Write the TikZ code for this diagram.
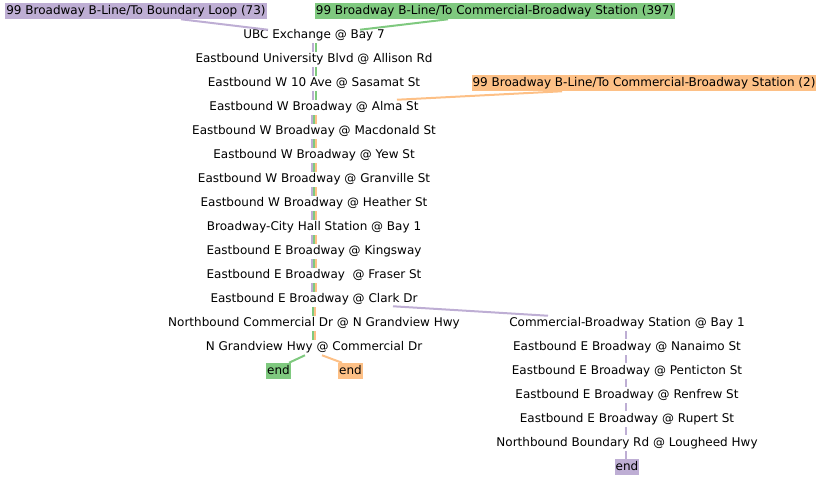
\documentclass[tikz,border=0pt]{standalone}
\usepackage{fontspec}
\setmainfont{DejaVu Sans}
\definecolor{cpur}{HTML}{BEAED4}
\definecolor{cgrn}{HTML}{7FC97F}
\definecolor{corg}{HTML}{FDC086}
\begin{document}
\begin{tikzpicture}[x=0.75pt,y=-0.75pt,
  every node/.style={font=\fontsize{9pt}{11pt}\selectfont, inner xsep=0.75pt, inner ysep=1.5pt, text height=7.4pt, text depth=1.6pt},
  stop/.style={},
  hdr/.style={fill=#1},
  seg/.style={draw=#1, line width=1.5pt},
]
\useasboundingbox (0,0) rectangle (821,480);
% header labels
\node[hdr=cpur] (hp) at (136,11) {99 Broadway B-Line/To Boundary Loop (73)};
\node[hdr=cgrn] (hg) at (495,11) {99 Broadway B-Line/To Commercial-Broadway Station (397)};
\node[hdr=corg] (ho) at (644,83) {99 Broadway B-Line/To Commercial-Broadway Station (2)};
% main column
\node[stop] (s1) at (314,35) {UBC Exchange @ Bay 7};
\node[stop] (s2) at (314,59) {Eastbound University Blvd @ Allison Rd};
\node[stop] (s3) at (314,83) {Eastbound W 10 Ave @ Sasamat St};
\node[stop] (s4) at (314,107) {Eastbound W Broadway @ Alma St};
\node[stop] (s5) at (314,131) {Eastbound W Broadway @ Macdonald St};
\node[stop] (s6) at (314,155) {Eastbound W Broadway @ Yew St};
\node[stop] (s7) at (314,179) {Eastbound W Broadway @ Granville St};
\node[stop] (s8) at (314,203) {Eastbound W Broadway @ Heather St};
\node[stop] (s9) at (314,227) {Broadway-City Hall Station @ Bay 1};
\node[stop] (s10) at (314,251) {Eastbound E Broadway @ Kingsway};
\node[stop] (s11) at (314,275) {Eastbound E Broadway\ \ @ Fraser St};
\node[stop] (s12) at (314,299) {Eastbound E Broadway @ Clark Dr};
\node[stop] (s13) at (314,323) {Northbound Commercial Dr @ N Grandview Hwy};
\node[stop] (s14) at (314,347) {N Grandview Hwy @ Commercial Dr};
\node[hdr=cgrn] (eg) at (278.5,371) {end};
\node[hdr=corg] (eo) at (350.5,371) {end};
% right column
\node[stop] (r1) at (627,323) {Commercial-Broadway Station @ Bay 1};
\node[stop] (r2) at (627,347) {Eastbound E Broadway @ Nanaimo St};
\node[stop] (r3) at (627,371) {Eastbound E Broadway @ Penticton St};
\node[stop] (r4) at (627,395) {Eastbound E Broadway @ Renfrew St};
\node[stop] (r5) at (627,419) {Eastbound E Broadway @ Rupert St};
\node[stop] (r6) at (627,443) {Northbound Boundary Rd @ Lougheed Hwy};
\node[hdr=cpur] (ep) at (627,467) {end};
% header edges
\draw[seg=cpur] ([shift={(45,0)}]hp.south) -- ([shift={(-46,3)}]s1.north);
\draw[seg=cgrn] ([shift={(-47,0)}]hg.south) -- ([shift={(46,3)}]s1.north);
\draw[seg=corg] ([shift={(-82,0)}]ho.south) -- ([shift={(83,1)}]s4.north);
% two-line sections
\foreach \a/\b in {s1/s2,s2/s3,s3/s4}{
  \draw[seg=cpur] ([shift={(-1,0)}]\a.south) -- ([shift={(-1,1)}]\b.north);
  \draw[seg=cgrn] ([shift={(1.5,0)}]\a.south) -- ([shift={(1.5,1)}]\b.north);
}
% three-line sections
\foreach \a/\b in {s4/s5,s5/s6,s6/s7,s7/s8,s8/s9,s9/s10,s10/s11,s11/s12}{
  \draw[seg=cpur] ([shift={(-2.5,0)}]\a.south) -- ([shift={(-2.5,1)}]\b.north);
  \draw[seg=cgrn] ([shift={(-0.5,0)}]\a.south) -- ([shift={(-0.5,1)}]\b.north);
  \draw[seg=corg] ([shift={(1.5,0)}]\a.south) -- ([shift={(1.5,1)}]\b.north);
}
\foreach \a/\b in {s12/s13,s13/s14}{
  \draw[seg=cgrn] ([shift={(-1,0)}]\a.south) -- ([shift={(-1,1)}]\b.north);
  \draw[seg=corg] ([shift={(1,0)}]\a.south) -- ([shift={(1,1)}]\b.north);
}
\draw[seg=cgrn] ([shift={(-9,0)}]s14.south) -- ([shift={(10.5,0)}]eg.north);
\draw[seg=corg] ([shift={(8,0)}]s14.south) -- ([shift={(-8.5,0)}]eo.north);
% branch to right column
\draw[seg=cpur] ([shift={(79,-1)}]s12.south) -- ([shift={(-79,1)}]r1.north);
\foreach \a/\b in {r1/r2,r2/r3,r3/r4,r4/r5,r5/r6,r6/ep}{
  \draw[seg=cpur] ([shift={(-1,0)}]\a.south) -- ([shift={(-1,0)}]\b.north);
}
\end{tikzpicture}
\end{document}
